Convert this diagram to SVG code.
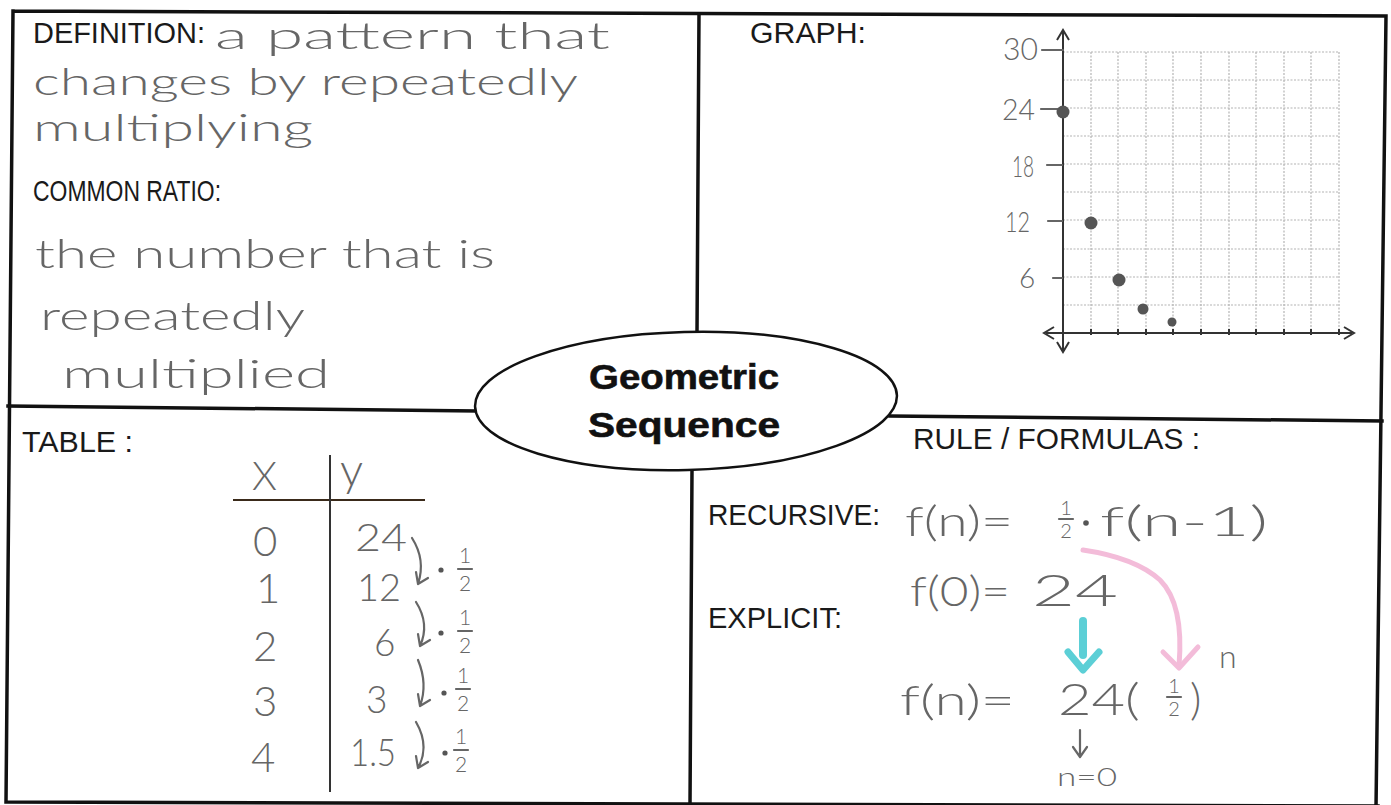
<svg xmlns="http://www.w3.org/2000/svg" width="1391" height="805" viewBox="0 0 1391 805">
<defs>
<style>
.frame{stroke:#111;stroke-width:3.5;fill:none;stroke-linecap:square}
.lbl{font-family:"Liberation Sans",Arial,sans-serif;font-size:29px;fill:#1a1a1a}
.hw{font-family:Lato,"Open Sans","DejaVu Sans",sans-serif;font-weight:300;fill:#666666}
.pen{stroke:#666666;stroke-width:2.2;fill:none;stroke-linecap:round;stroke-linejoin:round}
.grid{stroke:#b4b4b4;stroke-width:1.2;stroke-dasharray:2 1.5;fill:none}
.axis{stroke:#333;stroke-width:2;fill:none}
.dot{fill:#555555}
.title{font-family:"Liberation Sans",Arial,sans-serif;font-weight:bold;font-size:35px;fill:#111;stroke:#111;stroke-width:0.6;text-anchor:middle}
</style>
</defs>
<rect width="1391" height="805" fill="#ffffff"/>

<g id="frame">
<path class="frame" d="M13,11 L1386,16 L1376,808 M13,11 L6,802 L1378,806"/>
<path class="frame" d="M699,14 L697,333 M692,470 L690,806"/>
<path class="frame" d="M8,406 L478,411 M890,416 L1382,421"/>
</g>

<g id="center">
<ellipse cx="686" cy="401" rx="211" ry="69" transform="rotate(-1.5 686 401)" fill="#fff" stroke="#111" stroke-width="2.5"/>
<text class="title" x="684" y="389" textLength="190" lengthAdjust="spacingAndGlyphs">Geometric</text>
<text class="title" x="684" y="437" textLength="192" lengthAdjust="spacingAndGlyphs">Sequence</text>
</g>

<g id="definition">
<text class="lbl" x="33" y="43" textLength="172" lengthAdjust="spacingAndGlyphs">DEFINITION:</text>
<text class="hw" x="215" y="49" font-size="38" textLength="395" lengthAdjust="spacingAndGlyphs">a pattern that</text>
<text class="hw" x="33" y="95" font-size="38" textLength="545" lengthAdjust="spacingAndGlyphs">changes by repeatedly</text>
<text class="hw" x="33" y="141" font-size="38" textLength="280" lengthAdjust="spacingAndGlyphs">multiplying</text>
<text class="lbl" x="33" y="201" textLength="188" lengthAdjust="spacingAndGlyphs">COMMON RATIO:</text>
<text class="hw" x="35" y="268" font-size="40" textLength="460" lengthAdjust="spacingAndGlyphs">the number that is</text>
<text class="hw" x="40" y="330" font-size="40" textLength="265" lengthAdjust="spacingAndGlyphs">repeatedly</text>
<text class="hw" x="62" y="388" font-size="40" textLength="268" lengthAdjust="spacingAndGlyphs">multiplied</text>
</g>

<g id="graph">
<text class="lbl" x="750" y="43" textLength="116" lengthAdjust="spacingAndGlyphs">GRAPH:</text>
<g class="grid">
<path d="M1063,52 H1339 M1063,80 H1339 M1063,108 H1339 M1063,136 H1339 M1063,164 H1339 M1063,192 H1339 M1063,220 H1339 M1063,249 H1339 M1063,277 H1339 M1063,305 H1339"/>
<path d="M1091,52 V333 M1118,52 V333 M1146,52 V333 M1173,52 V333 M1201,52 V333 M1229,52 V333 M1256,52 V333 M1284,52 V333 M1311,52 V333 M1339,52 V333"/>
</g>
<path class="axis" d="M1063,32 V350 M1046,333 H1352" />
<path class="axis" d="M1057,40 L1063,30 L1069,40 M1057,342 L1063,352 L1069,342 M1054,327 L1044,333 L1054,339 M1344,327 L1354,333 L1344,339"/>
<path class="axis" d="M1091,329 V335 M1118,329 V335 M1146,329 V335 M1173,329 V335 M1201,329 V335 M1229,329 V335 M1256,329 V335 M1284,329 V335 M1311,329 V335 M1339,329 V335"/>
<path class="pen" d="M1042,50 H1063 M1041,109 H1063 M1047,165 H1062 M1048,221 H1062 M1053,278 H1062"/>
<text class="hw" x="1003" y="60" font-size="32" textLength="35" lengthAdjust="spacingAndGlyphs">30</text>
<text class="hw" x="1002" y="120" font-size="30" textLength="33" lengthAdjust="spacingAndGlyphs">24</text>
<text class="hw" x="1012" y="177" font-size="30" textLength="22" lengthAdjust="spacingAndGlyphs">18</text>
<text class="hw" x="1005" y="232" font-size="28" textLength="25" lengthAdjust="spacingAndGlyphs">12</text>
<text class="hw" x="1019" y="288" font-size="28">6</text>
<circle class="dot" cx="1063" cy="112" r="6.5"/>
<circle class="dot" cx="1091" cy="223" r="6.5"/>
<circle class="dot" cx="1119" cy="280" r="6.5"/>
<circle class="dot" cx="1143" cy="309" r="5.5"/>
<circle class="dot" cx="1172" cy="322" r="4.5"/>
</g>

<g id="table">
<text class="lbl" x="22" y="452" textLength="111" lengthAdjust="spacingAndGlyphs">TABLE :</text>
<path d="M233,500 H425" stroke="#3a2a1a" stroke-width="2.2"/>
<path d="M330,455 V792" stroke="#333" stroke-width="2"/>
<text class="hw" x="252" y="490" font-size="40">X</text>
<text class="hw" x="340" y="486" font-size="46">y</text>
<text class="hw" x="253" y="556" font-size="42">0</text>
<text class="hw" x="256" y="603" font-size="42">1</text>
<text class="hw" x="253" y="661" font-size="42">2</text>
<text class="hw" x="253" y="716" font-size="42">3</text>
<text class="hw" x="251" y="772" font-size="42">4</text>
<text class="hw" x="355" y="551" font-size="37" textLength="52" lengthAdjust="spacingAndGlyphs">24</text>
<text class="hw" x="357" y="601" font-size="37" textLength="44" lengthAdjust="spacingAndGlyphs">12</text>
<text class="hw" x="374" y="656" font-size="37">6</text>
<text class="hw" x="366" y="713" font-size="37">3</text>
<text class="hw" x="350" y="766" font-size="37" textLength="46" lengthAdjust="spacingAndGlyphs">1.5</text>
<g font-size="21" text-anchor="middle">
<text class="hw" x="465" y="563">1</text><text class="hw" x="465" y="591">2</text>
<text class="hw" x="465" y="625">1</text><text class="hw" x="465" y="653">2</text>
<text class="hw" x="463" y="683">1</text><text class="hw" x="463" y="711">2</text>
<text class="hw" x="461" y="744">1</text><text class="hw" x="461" y="772">2</text>
</g>
<path class="pen" d="M458,569 H472 M458,631 H472 M456,689 H470 M454,750 H468"/>
<circle class="dot" cx="441" cy="570" r="2.6"/><circle class="dot" cx="441" cy="633" r="2.6"/>
<circle class="dot" cx="444" cy="693" r="2.6"/><circle class="dot" cx="445" cy="753" r="2.6"/>
</g>

<g id="rule">
<text class="lbl" x="913" y="449" textLength="287" lengthAdjust="spacingAndGlyphs">RULE / FORMULAS :</text>
<text class="lbl" x="708" y="525" textLength="172" lengthAdjust="spacingAndGlyphs">RECURSIVE:</text>
<text class="lbl" x="708" y="628" textLength="134" lengthAdjust="spacingAndGlyphs">EXPLICIT:</text>
<text class="hw" x="905" y="536" font-size="42" textLength="108" lengthAdjust="spacingAndGlyphs">f(n)=</text>
<text class="hw" x="1066" y="515" font-size="20" text-anchor="middle">1</text>
<path class="pen" d="M1059,519 H1073"/>
<text class="hw" x="1066" y="538" font-size="20" text-anchor="middle">2</text>
<circle class="dot" cx="1086" cy="523" r="2.8"/>
<text class="hw" x="1100" y="536" font-size="42" textLength="168" lengthAdjust="spacingAndGlyphs">f(n-1)</text>
<text class="hw" x="910" y="606" font-size="42" textLength="100" lengthAdjust="spacingAndGlyphs">f(0)=</text>
<text class="hw" x="1032" y="606" font-size="44" textLength="86" lengthAdjust="spacingAndGlyphs">24</text>
<text class="hw" x="900" y="715" font-size="42" textLength="115" lengthAdjust="spacingAndGlyphs">f(n)=</text>
<text class="hw" x="1058" y="715" font-size="44" textLength="82" lengthAdjust="spacingAndGlyphs">24(</text>
<text class="hw" x="1174" y="693" font-size="20" text-anchor="middle">1</text>
<path class="pen" d="M1167,697 H1181"/>
<text class="hw" x="1174" y="716" font-size="20" text-anchor="middle">2</text>
<text class="hw" x="1190" y="715" font-size="44">)</text>
<text class="hw" x="1219" y="668" font-size="32">n</text>
<text class="hw" x="1057" y="786" font-size="26" textLength="60" lengthAdjust="spacingAndGlyphs">n=0</text>
</g>

<g id="connectors">
<g class="pen" stroke-width="2">
<path d="M412,538 Q426,560 418,584 M418,584 L416,572 M418,584 L428,578"/>
<path d="M416,602 Q430,624 420,646 M420,646 L418,634 M420,646 L430,640"/>
<path d="M418,660 Q428,684 420,706 M420,706 L418,694 M420,706 L430,700"/>
<path d="M416,722 Q430,746 418,768 M418,768 L416,756 M418,768 L428,762"/>
<path d="M1080,730 V756 M1073,747 L1080,757 L1087,747"/>
</g>
<path d="M1083,621 V655" stroke="#5ccfd6" stroke-width="8" stroke-linecap="round" fill="none"/>
<path d="M1068,652 L1083,670 L1099,652" stroke="#5ccfd6" stroke-width="7" stroke-linecap="round" stroke-linejoin="round" fill="none"/>
<path d="M1083,550 C1110,554 1140,562 1160,580 C1178,598 1182,630 1179,666" stroke="#f3bcd9" stroke-width="5" stroke-linecap="round" fill="none"/>
<path d="M1163,652 L1179,668 L1198,647" stroke="#f3bcd9" stroke-width="5" stroke-linecap="round" stroke-linejoin="round" fill="none"/>
</g>
</svg>
